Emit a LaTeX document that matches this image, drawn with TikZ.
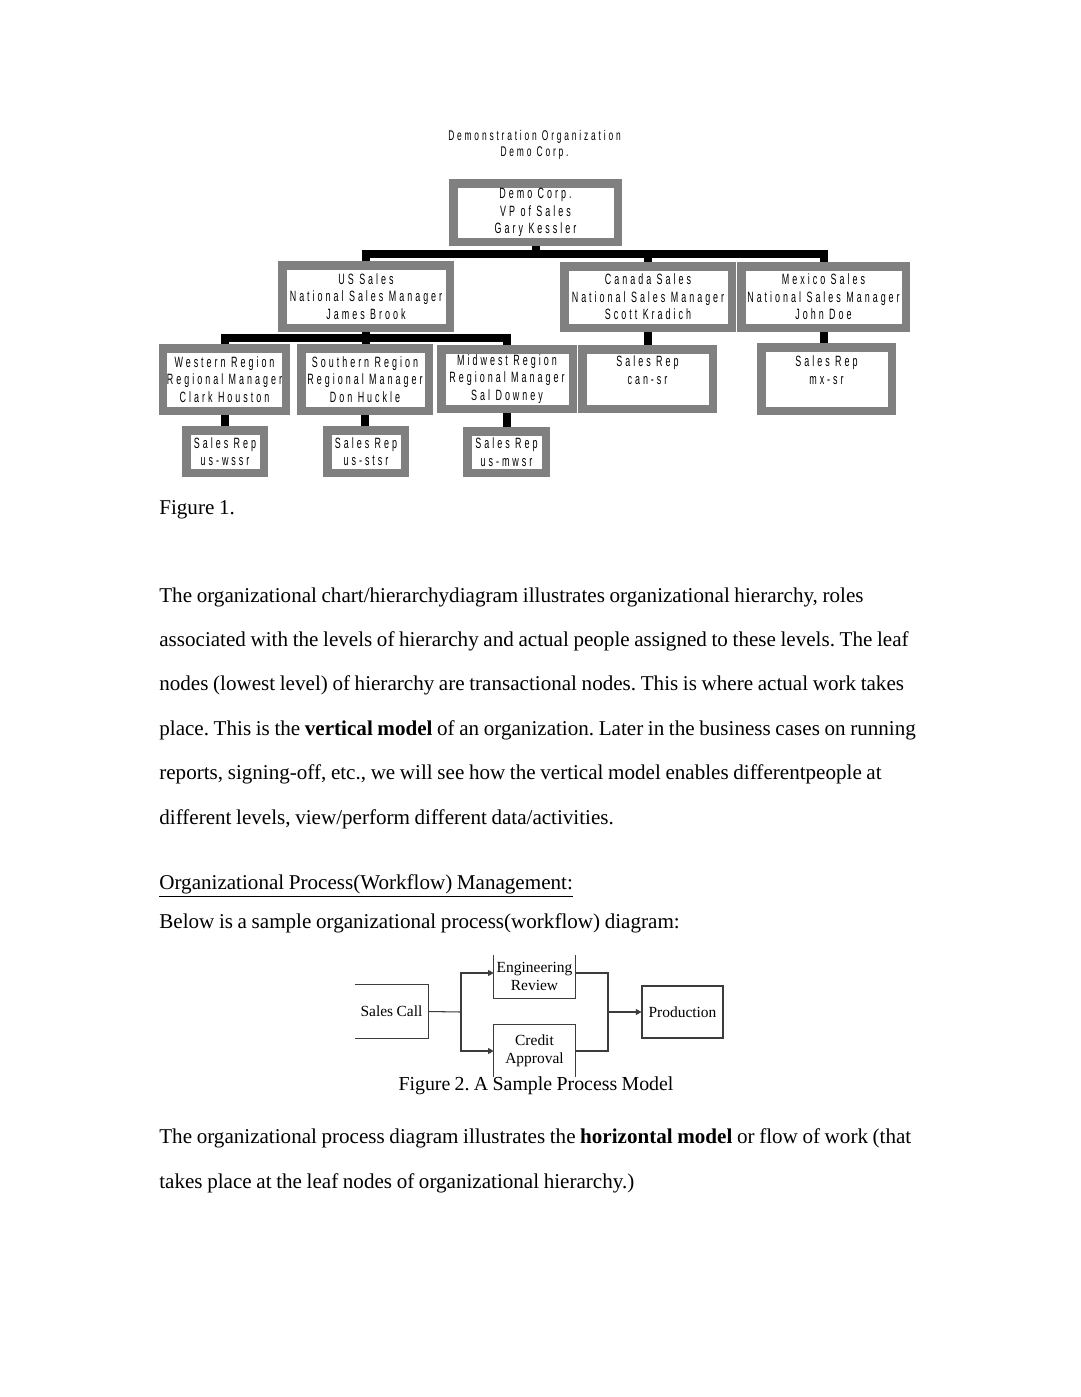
\documentclass[tikz,border=0pt]{standalone}
\usepackage{fontspec}
\setmainfont[WordSpace=0.88]{Liberation Serif}
\newfontfamily\orgfont[FakeStretch=0.6,LetterSpace=20]{Liberation Sans}
\usetikzlibrary{arrows.meta,positioning,calc}
\definecolor{orggray}{RGB}{128,128,128}
\definecolor{flowgray}{RGB}{60,60,60}
\newcommand\orgtxt{\orgfont\fontsize{8.5}{10}\selectfont}
\frenchspacing

\begin{document}
\begin{tikzpicture}[x=0.02cm,y=-0.02cm,
    orgbox/.style={draw=orggray,line width=0.17cm,fill=white,align=center,inner sep=0pt,font=\orgtxt},
    osize/.style 2 args={minimum width=#1*0.02cm-0.17cm,minimum height=#2*0.02cm-0.17cm},
    bar/.style={line width=0.16cm,black},
    bodytxt/.style={anchor=base west,inner sep=0pt,font=\fontsize{12}{14}\selectfont},
    flowbox/.style={inner sep=0pt,align=center,font=\fontsize{8.8}{10}\selectfont},
    fsize/.style 2 args={minimum width=#1*0.02cm,minimum height=#2*0.02cm},
    flowline/.style={draw=flowgray,line width=0.6pt},
    flowarr/.style={flowline,-{Triangle[length=3.2pt,width=3.4pt]}}
  ]
  \fill[white] (0,0) rectangle (1080,1397);
  \useasboundingbox (0,0) rectangle (1080,1397);

  % org chart
  \node[align=center,inner sep=0pt,font=\orgfont\fontsize{8}{9}\selectfont] (title) at (534.5,145) {Demonstration Organization\\Demo Corp.};
  \node[orgbox,osize={173}{67}] (root) at (535.5,212.5) {Demo Corp.\\VP of Sales\\Gary Kessler};
  \node[orgbox,osize={176}{71}] (us) at (366,296.5) {US Sales\\National Sales Manager\\James Brook};
  \node[orgbox,osize={176}{70}] (canada) at (648,297) {Canada Sales\\National Sales Manager\\Scott Kradich};
  \node[orgbox,osize={173}{70}] (mexico) at (823.5,297) {Mexico Sales\\National Sales Manager\\John Doe};
  \node[orgbox,osize={131}{71}] (western) at (224.5,379.5) {Western Region\\Regional Manager\\Clark Houston};
  \node[orgbox,osize={136}{71}] (southern) at (365,379.5) {Southern Region\\Regional Manager\\Don Huckle};
  \node[orgbox,osize={140}{68}] (midwest) at (507,379) {Midwest Region\\Regional Manager\\Sal Downey};
  \node[orgbox,osize={139}{68}] (canrep) at (647.5,379) {Sales Rep\\can-sr\\\mbox{}};
  \node[orgbox,osize={139}{72}] (mxrep) at (826.5,379) {Sales Rep\\mx-sr\\\mbox{}};
  \node[orgbox,osize={86}{51}] (wrep) at (225,451.5) {Sales Rep\\us-wssr};
  \node[orgbox,osize={86}{51}] (srep) at (366,451.5) {Sales Rep\\us-stsr};
  \node[orgbox,osize={87}{50}] (mrep) at (506.5,452) {Sales Rep\\us-mwsr};

  \coordinate (bus1) at (0,254);
  \coordinate (bus2) at (0,338);
  \draw[bar] (us.north) -- (us.north |- bus1) -- (mexico.north |- bus1) -- (mexico.north);
  \draw[bar] (root.south) -- (root.south |- bus1);
  \draw[bar] (canada.north) -- (canada.north |- bus1);
  \draw[bar] (western.north) -- (western.north |- bus2) -- (midwest.north |- bus2) -- (midwest.north);
  \draw[bar] (us.south) -- (us.south |- southern.north);
  \foreach \a/\b in {western/wrep,southern/srep,midwest/mrep,canada/canrep,mexico/mxrep}
    \draw[bar] (\a.south) -- (\a.south |- \b.north);

  \node[bodytxt] (fig1cap) at (159,514) {Figure 1.};

  % body text
  \foreach \ln [count=\i from 0] in {
      {The organizational chart/hierarchydiagram illustrates organizational hierarchy, roles},
      {associated with the levels of hierarchy and actual people assigned to these levels. The leaf},
      {nodes (lowest level) of hierarchy are transactional nodes. This is where actual work takes},
      {place. This is the \textbf{vertical model} of an organization. Later in the business cases on running},
      {reports, signing-off, etc., we will see how the vertical model enables differentpeople at},
      {different levels, view/perform different data/activities.}}
    \node[bodytxt] (para\i) at (159,602+44.4*\i) {\ln};

  \node[bodytxt] (heading) at (159,889) {\underline{Organizational Process(Workflow) Management:}};
  \node[bodytxt] (intro) at (159,928) {Below is a sample organizational process(workflow) diagram:};

  % process diagram
  \node[flowbox,fsize={73}{53}] (salescall) at (391.5,1011.5) {Sales Call};
  \draw[flowline] (salescall.north west) -- (salescall.north east) -- (salescall.south east) -- (salescall.south west);
  \node[flowbox,fsize={81}{43}] (engrev) at (534.5,976.5) {Engineering\\Review};
  \draw[flowline] (engrev.north west) -- (engrev.south west) -- (engrev.south east) -- (engrev.north east);
  \node[flowbox,fsize={81}{52}] (credit) at (534.5,1051) {Credit\\Approval};
  \draw[flowline] (credit.south west) -- (credit.north west) -- (credit.north east) -- (credit.south east);
  \node[flowbox,fsize={81}{52},flowline] (prod) at (682.5,1012) {Production};
  \coordinate (fork) at (461,1012);
  \coordinate (join) at (608,1012);
  \draw[flowline] (salescall.east) -- (fork);
  \draw[flowarr] (fork) |- ([yshift=0.07cm]engrev.west);
  \draw[flowarr] (fork) |- (credit.west);
  \draw[flowline] ([yshift=0.07cm]engrev.east) -| (join);
  \draw[flowline] (credit.east) -| (join);
  \draw[flowarr] (join) -- (prod.west);
  \node[inner sep=0pt,font=\fontsize{11.3}{13}\selectfont] (fig2cap) at (536,1086) {Figure 2. A Sample Process Model};

  \foreach \ln [count=\i from 0] in {
      {The organizational process diagram illustrates the \textbf{horizontal model} or flow of work (that},
      {takes place at the leaf nodes of organizational hierarchy.)}}
    \node[bodytxt] (last\i) at (159,1143+45*\i) {\ln};
\end{tikzpicture}
\end{document}
